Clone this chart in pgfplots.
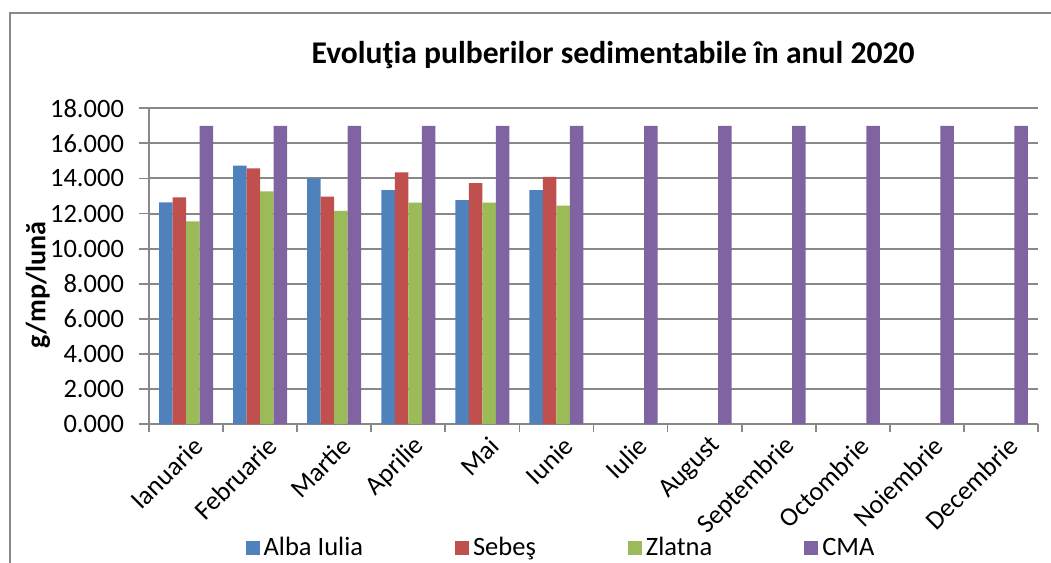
\documentclass[border=0pt]{standalone}
\usepackage{fontspec}
\setmainfont{Carlito}
\usepackage{pgfplots}
\pgfplotsset{compat=1.18}
\definecolor{cAlba}{HTML}{4F81BD}
\definecolor{cSebes}{HTML}{C0504D}
\definecolor{cZlatna}{HTML}{9BBB59}
\definecolor{cCMA}{HTML}{8064A2}
\definecolor{cgrid}{HTML}{888888}
\newcommand{\ticklab}{\fontsize{13.25}{15}\selectfont}

\begin{document}
\begin{tikzpicture}
\useasboundingbox (-74.5pt,-69.5pt) rectangle (451pt,212pt);
\draw[cgrid, line width=0.8pt] (-69.5pt,-80pt) -- (-69.5pt,205.5pt) -- (470pt,205.5pt);
\node[font=\fontsize{15.8}{18}\selectfont\bfseries] at (232pt,184.5pt) {Evoluţia pulberilor sedimentabile în anul 2020};
\begin{axis}[
  at={(0pt,0pt)}, anchor=south west,
  scale only axis, width=444.5pt, height=157.85pt,
  ybar=0pt, bar width=6.75pt,
  xmin=-0.5, xmax=11.5, ymin=0, ymax=18,
  axis x line*=bottom, axis y line*=left,
  axis line style={cgrid, line width=0.9pt, -},
  ytick={0,2,...,18},
  xtick={0,...,11},
  xticklabels={Ianuarie,Februarie,Martie,Aprilie,Mai,Iunie,Iulie,August,Septembrie,Octombrie,Noiembrie,Decembrie},
  minor xtick={-0.5,0.5,...,11.5},
  major x tick style={draw=none},
  tick align=outside,
  major tick length=5pt, minor tick length=4pt,
  tick style={cgrid, line width=0.9pt},
  ymajorgrids, grid style={cgrid, line width=1pt},
  tick label style={font=\ticklab},
  /pgf/number format/assume math mode=true,
  yticklabel={\pgfmathprintnumber[fixed, fixed zerofill, precision=3]{\tick}},
  yticklabel style={xshift=-4pt},
  xticklabel style={rotate=45, anchor=east, xshift=5pt, yshift=-7pt},
  ylabel={g/mp/lună},
  ylabel style={font=\fontsize{14}{16}\selectfont\bfseries, at={(axis description cs:-0.1249,0.44)}, anchor=center},
  legend columns=4,
  legend style={draw=none, fill=none, font=\ticklab, at={(0.4646,-0.393)}, anchor=center,
    /tikz/every even column/.append style={column sep=44pt},
    nodes={inner xsep=2pt}},
  legend image code/.code={\fill[#1] (0pt,-3.5pt) rectangle (7pt,3.5pt);},
]
\addplot[fill=cAlba, draw=none] coordinates {(0,12.63) (1,14.73) (2,14.00) (3,13.33) (4,12.76) (5,13.33)};
\addplot[fill=cSebes, draw=none] coordinates {(0,12.92) (1,14.58) (2,12.97) (3,14.35) (4,13.74) (5,14.09)};
\addplot[fill=cZlatna, draw=none] coordinates {(0,11.55) (1,13.27) (2,12.15) (3,12.62) (4,12.62) (5,12.45)};
\addplot[fill=cCMA, draw=none] coordinates {(0,17) (1,17) (2,17) (3,17) (4,17) (5,17) (6,17) (7,17) (8,17) (9,17) (10,17) (11,17)};
\legend{Alba Iulia, Sebeş, Zlatna, CMA}
\end{axis}
\end{tikzpicture}
\end{document}
